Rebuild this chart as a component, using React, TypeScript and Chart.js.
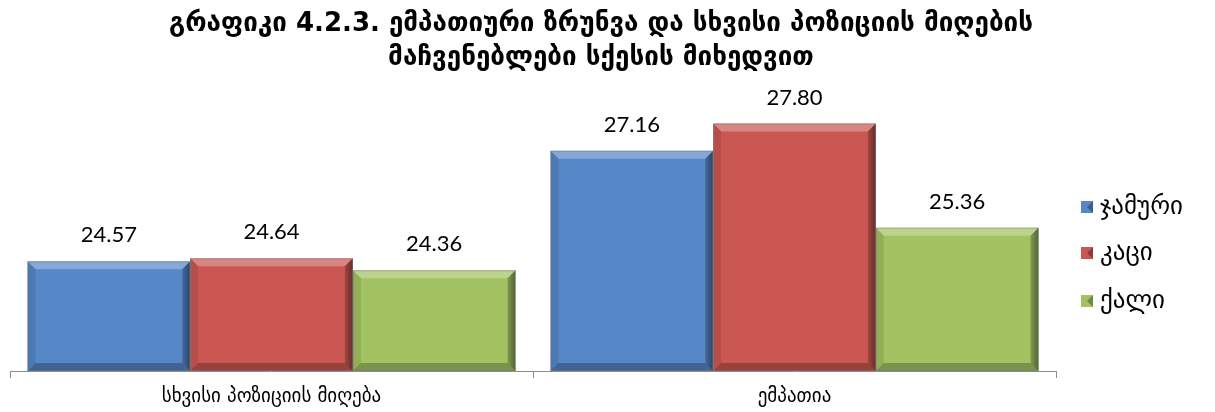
import React, { useEffect, useRef } from "react";
import { Chart, registerables } from "chart.js";

Chart.register(...registerables);

const categories = ["სხვისი პოზიციის მიღება", "ემპათია"];
const seriesNames = ["ჯამური", "კაცი", "ქალი"];
const totalValues = [24.57, 27.16];
const maleValues = [24.64, 27.8];
const femaleValues = [24.36, 25.36];
const titleLines = [
  "გრაფიკი 4.2.3. ემპათიური ზრუნვა და სხვისი პოზიციის მიღების",
  "მაჩვენებლები სქესის მიხედვით",
];
const colors = ["#5687C7", "#CB5752", "#A3C363"];

const bevelPlugin = {
  id: "bevel",
  afterDatasetsDraw(chart: any) {
    const ctx = chart.ctx;
    const area = chart.chartArea;
    ctx.save();
    chart.data.datasets.forEach((ds: any, di: number) => {
      const meta = chart.getDatasetMeta(di);
      meta.data.forEach((bar: any, idx: number) => {
        const x0 = bar.x - bar.width / 2;
        const x1 = bar.x + bar.width / 2;
        const y0 = bar.y;
        const y1 = Math.min(bar.base, area.bottom);
        const b = 8;
        const poly = (pts: number[][], fill: any) => {
          ctx.beginPath();
          ctx.moveTo(pts[0][0], pts[0][1]);
          for (let i = 1; i < pts.length; i++) ctx.lineTo(pts[i][0], pts[i][1]);
          ctx.closePath();
          ctx.fillStyle = fill;
          ctx.fill();
        };
        poly([[x0, y0], [x1, y0], [x1 - b, y0 + b], [x0 + b, y0 + b]], "rgba(255,255,255,0.28)");
        poly([[x0, y0], [x0 + b, y0 + b], [x0 + b, y1 - b], [x0, y1]], "rgba(0,0,0,0.10)");
        const rg = ctx.createLinearGradient(x1 - b, 0, x1, 0);
        rg.addColorStop(0, "rgba(0,0,0,0.2)");
        rg.addColorStop(1, "rgba(0,0,0,0.5)");
        poly([[x1, y0], [x1, y1], [x1 - b, y1 - b], [x1 - b, y0 + b]], rg);
        poly([[x0, y1], [x1, y1], [x1 - b, y1 - b], [x0 + b, y1 - b]], "rgba(0,0,0,0.25)");
        ctx.strokeStyle = "rgba(120,120,120,0.5)";
        ctx.lineWidth = 1;
        ctx.strokeRect(x0 + 0.5, y0 + 0.5, x1 - x0 - 1, y1 - y0 - 1);
        ctx.fillStyle = "#000";
        ctx.font = "22px Lato, 'Open Sans', sans-serif";
        ctx.textAlign = "center";
        ctx.textBaseline = "bottom";
        ctx.fillText(Number(ds.data[idx]).toFixed(2), bar.x, y0 - 15);
      });
    });
    ctx.fillStyle = "#000";
    ctx.font = "bold 26px 'DejaVu Sans', sans-serif";
    ctx.textAlign = "center";
    ctx.textBaseline = "middle";
    ctx.fillText(titleLines[0], 601, 24);
    ctx.fillText(titleLines[1], 601, 58);
    ctx.font = "25px 'DejaVu Sans', sans-serif";
    ctx.textAlign = "left";
    ctx.textBaseline = "middle";
    const ys = [207, 253, 301];
    seriesNames.forEach((n, i) => {
      const x = 1081, y = ys[i], s = 12;
      ctx.fillStyle = colors[i];
      ctx.fillRect(x, y - s / 2, s, s);
      ctx.fillStyle = "rgba(0,0,0,0.3)";
      ctx.beginPath();
      ctx.moveTo(x + s, y - s / 2);
      ctx.lineTo(x + s, y + s / 2);
      ctx.lineTo(x + s / 2, y);
      ctx.closePath();
      ctx.fill();
      ctx.fillStyle = "#000";
      ctx.fillText(n, 1100, y);
    });
    ctx.restore();
  },
};

export default function App() {
  const ref = useRef<HTMLCanvasElement>(null);
  useEffect(() => {
    if (!ref.current) return;
    const chart = new Chart(ref.current, {
      type: "bar",
      data: {
        labels: categories,
        datasets: [
          { label: seriesNames[0], data: totalValues, backgroundColor: colors[0] },
          { label: seriesNames[1], data: maleValues, backgroundColor: colors[1] },
          { label: seriesNames[2], data: femaleValues, backgroundColor: colors[2] },
        ],
      },
      options: {
        animation: false,
        responsive: false,
        layout: { padding: { top: 115, left: 10, right: 159, bottom: 0 } },
        plugins: { legend: { display: false }, title: { display: false }, tooltip: { enabled: false } },
        datasets: { bar: { categoryPercentage: 0.933, barPercentage: 1.0 } },
        scales: {
          y: { display: false, min: 22, max: 28 },
          x: {
            grid: { drawOnChartArea: false, drawTicks: true, tickLength: 7, color: "#8c8c8c", offset: true },
            border: { display: true, color: "#8c8c8c", width: 1 },
            ticks: { color: "#000", font: { size: 19, family: "'DejaVu Sans', sans-serif" }, padding: 8 },
            afterFit: (scale: any) => { scale.height = 41; },
          },
        },
      },
      plugins: [bevelPlugin],
    });
    return () => chart.destroy();
  }, []);
  return (
    <div style={{ position: "absolute", left: 0, top: 0, width: 1215, height: 412, background: "#fff" }}>
      <canvas ref={ref} width={1215} height={412} style={{ width: 1215, height: 412 }} />
    </div>
  );
}
